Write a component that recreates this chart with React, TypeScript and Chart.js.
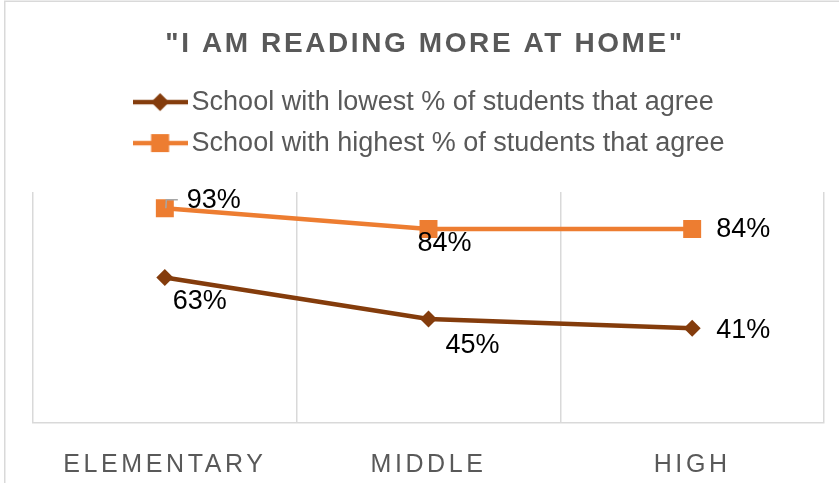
import React, { useEffect, useRef } from "react";
import { Chart, registerables } from "chart.js";

Chart.register(...registerables);

// ---- data ----
const categories = ["ELEMENTARY", "MIDDLE", "HIGH"];
const lowestSeries = [63, 45, 41];
const highestSeries = [93, 84, 84];
const seriesNames = [
  "School with lowest % of students that agree",
  "School with highest % of students that agree",
];
const titleText = '"I AM READING MORE AT HOME"';

// ---- styles ----
const FONT = "'Liberation Sans', Arial, sans-serif";
const BROWN = "#843C0C";
const ORANGE = "#ED7D31";
const GRID = "#D9D9D9";
const TEXT = "#595959";
const LEGEND_GAP = 25.4;
const LEGEND_SHIFT = 8.25;

// data-label offsets (px) from each point, per dataset
const LABEL_OFFSETS: number[][][] = [
  [[35, 24], [44, 26], [51, 2]],
  [[49, -8], [16, 15], [51, 1]],
];

function makeLegendIcon(color: string, shape: "diamond" | "square") {
  const c = document.createElement("canvas");
  c.width = 55;
  c.height = 20;
  const ctx = c.getContext("2d")!;
  ctx.strokeStyle = color;
  ctx.lineWidth = 4.5;
  ctx.beginPath();
  ctx.moveTo(0, 10);
  ctx.lineTo(55, 10);
  ctx.stroke();
  ctx.fillStyle = color;
  if (shape === "diamond") {
    ctx.beginPath();
    ctx.moveTo(27.5, 1);
    ctx.lineTo(36.5, 10);
    ctx.lineTo(27.5, 19);
    ctx.lineTo(18.5, 10);
    ctx.closePath();
    ctx.fill();
  } else {
    ctx.fillRect(18.5, 1, 18, 18);
  }
  return c;
}

const tweaksPlugin = {
  id: "tweaks",
  beforeLayout(chart: any) {
    const lg = chart.legend;
    if (lg && !lg.__gap) {
      const fit = lg.fit.bind(lg);
      lg.fit = () => {
        fit();
        lg.height += LEGEND_GAP;
        if (Array.isArray(lg.lineWidths) && lg.lineWidths.length) {
          const m = Math.max(...lg.lineWidths);
          lg.lineWidths = lg.lineWidths.map(() => m - 2 * LEGEND_SHIFT);
        }
      };
      lg.__gap = true;
    }
  },
  beforeDraw(chart: any) {
    const ctx = chart.ctx;
    ctx.save();
    ctx.fillStyle = "#ffffff";
    ctx.fillRect(0, 0, chart.width, chart.height);
    ctx.strokeStyle = GRID;
    ctx.lineWidth = 1.5;
    ctx.beginPath();
    ctx.moveTo(4.75, chart.height);
    ctx.lineTo(4.75, 1.25);
    ctx.lineTo(chart.width, 1.25);
    ctx.stroke();
    ctx.restore();

    const tb = chart.titleBlock;
    if (tb && !tb.__sp) {
      const d = tb.draw.bind(tb);
      tb.draw = (...a: any[]) => {
        ctx.save();
        ctx.letterSpacing = "2.6px";
        d(...a);
        ctx.restore();
      };
      tb.__sp = true;
    }
    const xs = chart.scales.x;
    if (xs && !xs.__sp) {
      const d = xs.drawLabels.bind(xs);
      xs.drawLabels = (...a: any[]) => {
        ctx.save();
        ctx.letterSpacing = "3.6px";
        d(...a);
        ctx.restore();
      };
      xs.__sp = true;
    }
  },
  afterDatasetsDraw(chart: any) {
    const ctx = chart.ctx;
    ctx.save();
    // leader line for the first label of the upper series
    const p0 = chart.getDatasetMeta(1).data[0];
    if (p0) {
      ctx.strokeStyle = "#A6A6A6";
      ctx.lineWidth = 1.5;
      ctx.beginPath();
      ctx.moveTo(p0.x + 1, p0.y);
      ctx.lineTo(p0.x + 1.5, p0.y - 8.5);
      ctx.lineTo(p0.x + 13, p0.y - 8.5);
      ctx.stroke();
    }
    ctx.font = `27px ${FONT}`;
    ctx.fillStyle = "#000000";
    ctx.textAlign = "center";
    ctx.textBaseline = "middle";
    chart.data.datasets.forEach((ds: any, di: number) => {
      const meta = chart.getDatasetMeta(di);
      meta.data.forEach((pt: any, i: number) => {
        const [dx, dy] = LABEL_OFFSETS[di][i];
        ctx.fillText(`${ds.data[i]}%`, pt.x + dx, pt.y + dy);
      });
    });
    ctx.restore();
  },
};

export default function App() {
  const ref = useRef<HTMLCanvasElement>(null);

  useEffect(() => {
    const canvas = ref.current!;
    const icons = [makeLegendIcon(BROWN, "diamond"), makeLegendIcon(ORANGE, "square")];
    const chart = new Chart(canvas, {
      type: "line",
      data: {
        labels: categories,
        datasets: [
          {
            label: seriesNames[0],
            data: lowestSeries,
            borderColor: BROWN,
            backgroundColor: BROWN,
            borderWidth: 4.5,
            pointStyle: "rectRot",
            pointRadius: 8.5,
            pointBorderWidth: 0,
            pointBackgroundColor: BROWN,
            tension: 0,
          },
          {
            label: seriesNames[1],
            data: highestSeries,
            borderColor: ORANGE,
            backgroundColor: ORANGE,
            borderWidth: 4.5,
            pointStyle: "rect",
            pointRadius: 12.7,
            pointBorderWidth: 0,
            pointBackgroundColor: ORANGE,
            tension: 0,
          },
        ],
      },
      options: {
        responsive: false,
        animation: false,
        events: [],
        layout: { padding: { top: 0, left: 26, right: 15, bottom: 0 } },
        plugins: {
          title: {
            display: true,
            text: titleText,
            color: TEXT,
            font: { family: FONT, size: 28, weight: "bold" },
            padding: { top: 27, bottom: 14 },
          },
          legend: {
            display: true,
            position: "top",
            labels: {
              usePointStyle: true,
              pointStyleWidth: 36,
              color: TEXT,
              padding: 14,
              font: { family: FONT, size: 27 },
              generateLabels: (c: any) =>
                c.data.datasets.map((ds: any, i: number) => ({
                  text: ds.label,
                  pointStyle: icons[i],
                  fillStyle: ds.borderColor,
                  strokeStyle: ds.borderColor,
                  lineWidth: 0,
                  hidden: false,
                  datasetIndex: i,
                  fontColor: TEXT,
                })),
            },
          },
          tooltip: { enabled: false },
        },
        scales: {
          x: {
            type: "category",
            offset: true,
            grid: { offset: true, color: GRID, lineWidth: 1.5, drawTicks: false },
            border: { display: true, color: GRID, width: 1.5 },
            ticks: {
              color: TEXT,
              font: { family: FONT, size: 25 },
              padding: 27.5,
              maxRotation: 0,
              autoSkip: false,
            },
            afterFit: (s: any) => {
              s.height = 60;
            },
          },
          y: {
            min: 0,
            max: 100,
            grid: { display: false },
            border: { display: false },
            ticks: { display: false },
            afterFit: (s: any) => {
              s.width = 7;
            },
          },
        },
      },
      plugins: [tweaksPlugin],
    } as any);
    return () => chart.destroy();
  }, []);

  return (
    <div style={{ position: "fixed", left: 0, top: 0, width: 839, height: 483, background: "#fff" }}>
      <canvas ref={ref} width={839} height={483} style={{ display: "block" }} />
    </div>
  );
}
